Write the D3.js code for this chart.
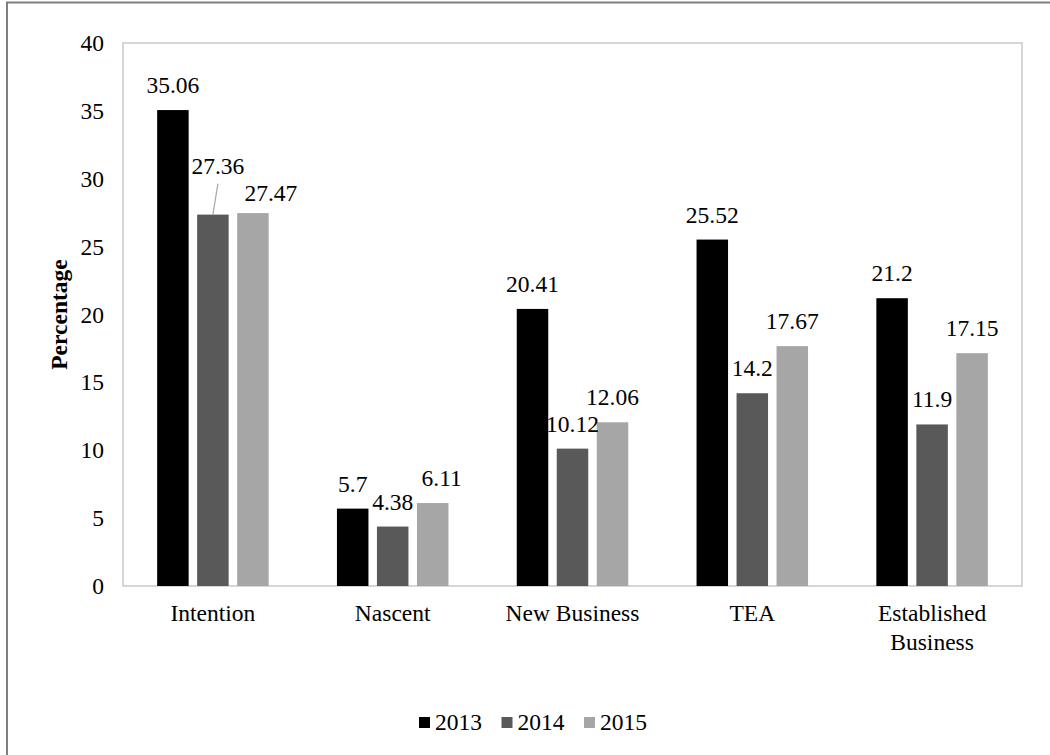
<!DOCTYPE html>
<html>
<head>
<meta charset="utf-8">
<script src="https://cdn.jsdelivr.net/npm/d3@7"></script>
<style>
  html, body { margin: 0; padding: 0; background: #fff; }
  svg { display: block; }
  text { font-family: "Liberation Serif", "Times New Roman", serif; fill: #000; }
</style>
</head>
<body>
<svg id="chart" width="1050" height="755"></svg>
<script>
// Entrepreneurial activity rates by stage and year
const categories = ["Intention", "Nascent", "New Business", "TEA", "Established Business"];
const years = ["2013", "2014", "2015"];
const values2013 = [35.06, 5.7, 20.41, 25.52, 21.2];
const values2014 = [27.36, 4.38, 10.12, 14.2, 11.9];
const values2015 = [27.47, 6.11, 12.06, 17.67, 17.15];
const yTicks = [0, 5, 10, 15, 20, 25, 30, 35, 40];

const seriesValues = { "2013": values2013, "2014": values2014, "2015": values2015 };
const colors = { "2013": "#000000", "2014": "#595959", "2015": "#a6a6a6" };

// label offsets (px) for labels moved away from their default spot
const labelNudge = {
  "2014-0": { dx: 5, dy: -24, leader: true },
  "2015-0": { dx: 18, dy: 5 },
  "2015-1": { dx: 9, dy: 0 }
};

const svg = d3.select("#chart");
const fontSize = 23.5;

// outer frame
svg.append("rect")
  .attr("x", 7).attr("y", 2.5)
  .attr("width", 1200).attr("height", 900)
  .attr("fill", "none").attr("stroke", "#7f7f7f").attr("stroke-width", 2);

const plot = { left: 123, right: 1022, top: 43, bottom: 586 };

const x = d3.scaleBand().domain(categories).range([plot.left, plot.right]).padding(0);
const xs = d3.scaleBand().domain(years).range([-55.75, 55.75]).paddingInner(0.2125).paddingOuter(0);
const y = d3.scaleLinear().domain([0, 40]).range([plot.bottom, plot.top]);

// plot area border
svg.append("rect")
  .attr("x", plot.left).attr("y", plot.top)
  .attr("width", plot.right - plot.left).attr("height", plot.bottom - plot.top)
  .attr("fill", "none").attr("stroke", "#c9c9c9").attr("stroke-width", 1.5);

// y axis labels
const yAxis = d3.axisLeft(y).tickValues(yTicks).tickSize(0).tickPadding(19);
const yG = svg.append("g").attr("transform", `translate(${plot.left},0)`).call(yAxis);
yG.select(".domain").remove();
yG.selectAll("text")
  .attr("font-family", "Liberation Serif").attr("font-size", fontSize).attr("fill", "#000");

// y axis title
svg.append("text")
  .attr("transform", `translate(67,${(plot.top + plot.bottom) / 2}) rotate(-90)`)
  .attr("text-anchor", "middle")
  .attr("font-size", fontSize).attr("font-weight", "bold")
  .text("Percentage");

// category labels, wrapped like the source
const catG = svg.append("g");
categories.forEach(c => {
  const cx = x(c) + x.bandwidth() / 2;
  const lines = c === "Established Business" ? ["Established", "Business"] : [c];
  const t = catG.append("text")
    .attr("x", cx).attr("y", 621)
    .attr("text-anchor", "middle").attr("font-size", fontSize);
  lines.forEach((ln, i) => {
    t.append("tspan").attr("x", cx).attr("dy", i === 0 ? 0 : 28.5).text(ln);
  });
});

// bars
const barG = svg.append("g");
years.forEach(yr => {
  seriesValues[yr].forEach((v, i) => {
    const bx = x(categories[i]) + x.bandwidth() / 2 + xs(yr);
    barG.append("rect")
      .attr("x", bx).attr("y", y(v))
      .attr("width", xs.bandwidth()).attr("height", y(0) - y(v))
      .attr("fill", colors[yr]);
  });
});

// value labels
const labG = svg.append("g");
years.forEach(yr => {
  seriesValues[yr].forEach((v, i) => {
    const cx = x(categories[i]) + x.bandwidth() / 2 + xs(yr) + xs.bandwidth() / 2;
    const by = y(v) - 17;
    const n = labelNudge[`${yr}-${i}`] || { dx: 0, dy: 0 };
    labG.append("text")
      .attr("x", cx + n.dx).attr("y", by + n.dy)
      .attr("text-anchor", "middle").attr("font-size", fontSize)
      .text(String(v));
    if (n.leader) {
      labG.append("line")
        .attr("x1", cx).attr("y1", y(v))
        .attr("x2", cx + n.dx).attr("y2", by + n.dy + 10)
        .attr("stroke", "#a6a6a6").attr("stroke-width", 1.2);
    }
  });
});

// legend
const legG = svg.append("g");
const legStart = 419, legStep = 82.5, legY = 730;
years.forEach((yr, i) => {
  const lx = legStart + i * legStep;
  legG.append("rect")
    .attr("x", lx).attr("y", legY - 13)
    .attr("width", 11).attr("height", 11)
    .attr("fill", colors[yr]);
  legG.append("text")
    .attr("x", lx + 16).attr("y", legY)
    .attr("font-size", fontSize)
    .text(yr);
});
</script>
</body>
</html>
